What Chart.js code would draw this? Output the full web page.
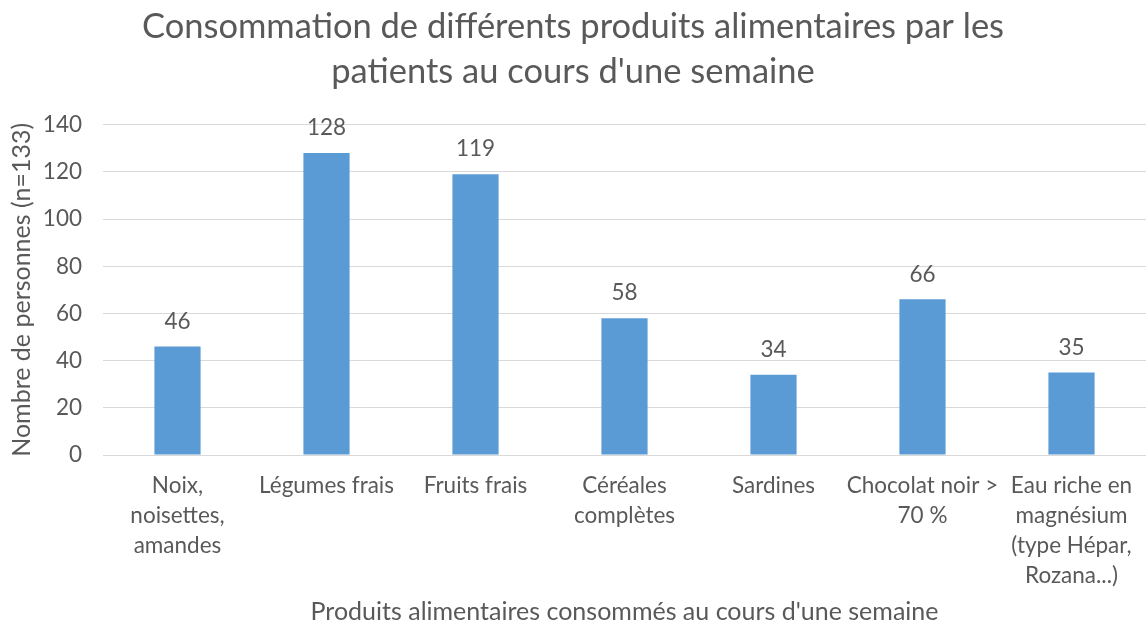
<!DOCTYPE html>
<html>
<head>
<meta charset="utf-8">
<script src="https://cdn.jsdelivr.net/npm/chart.js@4"></script>
<style>
  html, body { margin: 0; padding: 0; background: #fff; }
  #wrap { width: 1146px; height: 622px; }
</style>
</head>
<body>
<div id="wrap"><canvas id="foodChart"></canvas></div>
<script>
const categories = [
    ['Noix,', 'noisettes,', 'amandes'],
    ['Légumes frais'],
    ['Fruits frais'],
    ['Céréales', 'complètes'],
    ['Sardines'],
    ['Chocolat noir >', '70 %'],
    ['Eau riche en', 'magnésium', '(type Hépar,', 'Rozana...)']
];
const personCounts = [46, 128, 119, 58, 34, 66, 35];
const yTicks = [0, 20, 40, 60, 80, 100, 120, 140];

const textGrey = '#595959';
const fontName = "Lato, sans-serif";

// value printed above each bar
const barValueLabels = {
    id: 'barValueLabels',
    afterDatasetsDraw(chart) {
        const ctx = chart.ctx;
        const meta = chart.getDatasetMeta(0);
        ctx.save();
        ctx.font = '22.5px ' + fontName;
        ctx.fillStyle = textGrey;
        ctx.textAlign = 'center';
        ctx.textBaseline = 'middle';
        meta.data.forEach((bar, i) => {
            ctx.fillText(String(personCounts[i]), bar.x, bar.y - 25);
        });
        ctx.restore();
    }
};

new Chart(document.getElementById('foodChart').getContext('2d'), {
    type: 'bar',
    data: {
        labels: categories,
        datasets: [{
            label: 'Nombre de personnes',
            data: personCounts,
            backgroundColor: '#5B9BD5',
            barPercentage: 0.62,
            categoryPercentage: 0.5
        }]
    },
    options: {
        responsive: true,
        maintainAspectRatio: false,
        animation: false,
        layout: { padding: 0 },
        plugins: {
            legend: { display: false },
            tooltip: { enabled: false },
            title: {
                display: true,
                text: ['Consommation de différents produits alimentaires par les', "patients au cours d'une semaine"],
                color: textGrey,
                font: { family: fontName, size: 34.5, weight: 'normal', lineHeight: 1.3 },
                padding: { top: 4.5, bottom: 30.5 }
            }
        },
        scales: {
            x: {
                grid: { display: false },
                border: { display: true, color: '#d9d9d9', width: 1 },
                ticks: {
                    color: textGrey,
                    font: { family: fontName, size: 22.5, lineHeight: 1.333 },
                    maxRotation: 0,
                    autoSkip: false,
                    padding: 8
                },
                title: {
                    display: true,
                    text: "Produits alimentaires consommés au cours d'une semaine",
                    color: textGrey,
                    font: { family: fontName, size: 25, lineHeight: 1 },
                    padding: { top: 0, bottom: -2 }
                },
                afterFit(scale) { scale.height = 167; }
            },
            y: {
                min: 0,
                max: 140,
                afterBuildTicks(scale) { scale.ticks = yTicks.map(v => ({ value: v })); },
                grid: { color: '#d9d9d9', drawTicks: false },
                border: { display: false },
                ticks: {
                    color: textGrey,
                    font: { family: fontName, size: 22.5 },
                    padding: 21
                },
                title: {
                    display: true,
                    text: 'Nombre de personnes (n=133)',
                    color: textGrey,
                    font: { family: fontName, size: 25, lineHeight: 1.2 },
                    padding: { top: 7, bottom: 0 }
                },
                afterFit(scale) { scale.width = 103; }
            }
        }
    },
    plugins: [barValueLabels]
});
</script>
</body>
</html>
